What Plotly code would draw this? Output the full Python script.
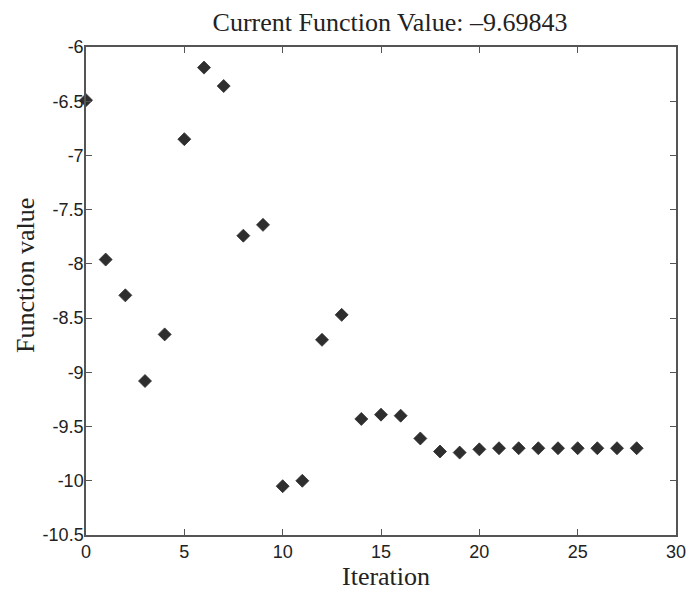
import plotly.graph_objects as go

iterations = list(range(29))
values = [-6.49, -7.96, -8.29, -9.08, -8.65, -6.85, -6.19, -6.36, -7.74, -7.64,
          -10.05, -10.00, -8.70, -8.47, -9.43, -9.39, -9.40, -9.61, -9.73, -9.74,
          -9.71, -9.70, -9.70, -9.70, -9.70, -9.70, -9.70, -9.70, -9.70]
x_ticks = [0, 5, 10, 15, 20, 25, 30]
y_ticks = [-6, -6.5, -7, -7.5, -8, -8.5, -9, -9.5, -10, -10.5]
title_text = "Current Function Value: \u20139.69843"
x_label = "Iteration"
y_label = "Function value"

serif = "Liberation Serif, Times New Roman, serif"
sans = "Liberation Sans, Arial, sans-serif"

fig = go.Figure()
fig.add_trace(go.Scatter(
    x=iterations, y=values, mode="markers",
    marker=dict(symbol="diamond", size=10, color="#2e2e2e",
                line=dict(width=0.8, color="#2e2e2e")),
    cliponaxis=False, showlegend=False,
))

axis_common = dict(
    showline=True, linecolor="#555555", linewidth=1.5, mirror="ticks",
    ticks="inside", ticklen=6, tickcolor="#555555", tickwidth=1,
    showgrid=False, zeroline=False, automargin=False,
    tickfont=dict(family=sans, size=18, color="#222222"),
)

fig.update_layout(
    width=687, height=590,
    margin=dict(l=86, r=11, t=47, b=55),
    paper_bgcolor="white", plot_bgcolor="white",
    title=dict(text=title_text, x=390 / 687, xanchor="center",
               y=1 - 22 / 590, yanchor="middle",
               font=dict(family=serif, size=26, color="#222222")),
    xaxis=dict(range=[0, 30], tickvals=x_ticks, ticktext=[str(v) for v in x_ticks],
               ticklabelstandoff=0, **axis_common),
    yaxis=dict(range=[-10.5, -6], tickvals=y_ticks, ticktext=[str(v) for v in y_ticks],
               ticklabelstandoff=-3, **axis_common),
)

fig.add_annotation(text=x_label, xref="paper", yref="paper",
                   x=(386 - 86) / 590, y=-(576 - 535) / 488,
                   xanchor="center", yanchor="middle", showarrow=False,
                   font=dict(family=serif, size=26, color="#222222"))
fig.add_annotation(text=y_label, xref="paper", yref="paper",
                   x=-(86 - 25) / 590, y=(535 - 276) / 488,
                   xanchor="center", yanchor="middle", showarrow=False, textangle=-90,
                   font=dict(family=serif, size=26, color="#222222"))

fig.write_html("out.html", config={"displayModeBar": False},
               post_script="document.body.style.margin='0';document.body.style.overflow='hidden';")
